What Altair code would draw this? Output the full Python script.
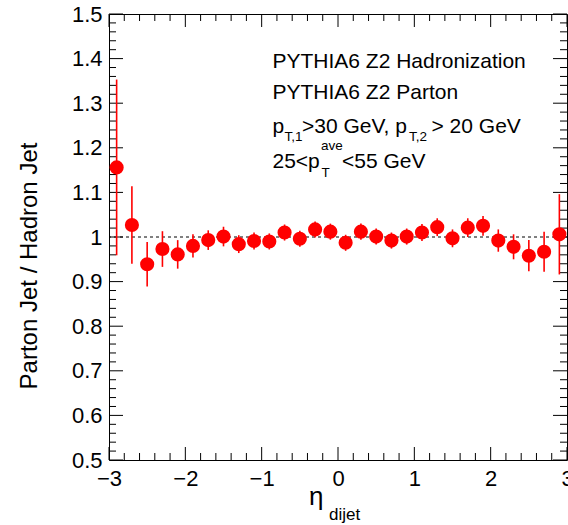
import altair as alt
import pandas as pd

# ---- data ----
eta = [-2.9, -2.7, -2.5, -2.3, -2.1, -1.9, -1.7, -1.5, -1.3, -1.1,
       -0.9, -0.7, -0.5, -0.3, -0.1, 0.1, 0.3, 0.5, 0.7, 0.9,
       1.1, 1.3, 1.5, 1.7, 1.9, 2.1, 2.3, 2.5, 2.7, 2.9]
ratio = [1.156, 1.027, 0.939, 0.973, 0.961, 0.980, 0.993, 1.001, 0.984, 0.991,
         0.990, 1.010, 0.996, 1.017, 1.012, 0.987, 1.012, 1.001, 0.992, 1.001,
         1.010, 1.022, 0.997, 1.021, 1.025, 0.992, 0.978, 0.958, 0.967, 1.006]
err = [0.197, 0.087, 0.050, 0.040, 0.032, 0.026, 0.022, 0.022, 0.020, 0.019,
       0.018, 0.018, 0.018, 0.018, 0.018, 0.018, 0.018, 0.018, 0.018, 0.018,
       0.019, 0.020, 0.020, 0.021, 0.022, 0.025, 0.028, 0.035, 0.045, 0.090]

x_major = [-3, -2, -1, 0, 1, 2, 3]
x_minor = [round(-3 + 0.2 * i, 1) for i in range(31) if i % 5]
y_major = [0.5, 0.6, 0.7, 0.8, 0.9, 1.0, 1.1, 1.2, 1.3, 1.4, 1.5]
y_minor = [round(0.5 + 0.02 * i, 2) for i in range(51) if i % 5]

legend_lines = ["PYTHIA6 Z2 Hadronization", "PYTHIA6 Z2 Parton"]

df = pd.DataFrame({
    "eta": eta,
    "ratio": ratio,
    "lo": [r - e for r, e in zip(ratio, err)],
    "hi": [r + e for r, e in zip(ratio, err)],
})

W, H = 458, 446
FONT = "Liberation Sans"
RED = "#ff0000"

xs = alt.Scale(domain=[-3, 3], nice=False, zero=False)
ys = alt.Scale(domain=[0.5, 1.5], nice=False, zero=False)

x_axis = alt.Axis(values=x_major, ticks=False, tickSize=0, domain=False, grid=False,
                  labelFont=FONT, labelFontSize=22, labelColor="black",
                  labelPadding=8, labelFlush=False, labelOverlap=False, title=None)
y_axis = alt.Axis(values=y_major, ticks=False, tickSize=0, domain=False, grid=False,
                  labelFont=FONT, labelFontSize=22, labelColor="black",
                  labelPadding=7, labelFlush=False, labelOverlap=False, title=None,
                  labelExpr="datum.value == 1 ? '1' : format(datum.value, '.1f')")

base = alt.Chart(df)

errbars = base.mark_rule(color=RED, strokeWidth=1.6).encode(
    x=alt.X("eta:Q", scale=xs, axis=x_axis),
    y=alt.Y("lo:Q", scale=ys, axis=y_axis),
    y2="hi:Q",
)

points = base.mark_circle(size=200, color=RED, opacity=1).encode(
    x=alt.X("eta:Q", scale=xs, axis=x_axis),
    y=alt.Y("ratio:Q", scale=ys, axis=y_axis),
)

unity = alt.Chart(pd.DataFrame({"v": [1.0]})).mark_rule(
    color="black", strokeWidth=1, strokeDash=[3, 3]
).encode(y=alt.Y("v:Q", scale=ys, axis=y_axis))


def xticks(vals, length):
    d = alt.Chart(pd.DataFrame({"v": vals}))
    bot = d.mark_rule(color="black", strokeWidth=1).encode(
        x=alt.X("v:Q", scale=xs, axis=x_axis), y=alt.value(H), y2=alt.value(H - length))
    top = d.mark_rule(color="black", strokeWidth=1).encode(
        x=alt.X("v:Q", scale=xs, axis=x_axis), y=alt.value(0), y2=alt.value(length))
    return [bot, top]


def yticks(vals, length):
    d = alt.Chart(pd.DataFrame({"v": vals}))
    left = d.mark_rule(color="black", strokeWidth=1).encode(
        y=alt.Y("v:Q", scale=ys, axis=y_axis), x=alt.value(0), x2=alt.value(length))
    right = d.mark_rule(color="black", strokeWidth=1).encode(
        y=alt.Y("v:Q", scale=ys, axis=y_axis), x=alt.value(W), x2=alt.value(W - length))
    return [left, right]


def label(txt, x, y, size, angle=0, align="left", baseline="alphabetic"):
    return alt.Chart(pd.DataFrame({"t": [txt]})).mark_text(
        align=align, baseline=baseline, font=FONT, fontSize=size,
        color="black", angle=angle
    ).encode(x=alt.value(x), y=alt.value(y), text="t:N")


# offsets: plot origin at (109, 14) in the page
OX, OY = 109, 14
texts = [
    label(legend_lines[0], 272.5 - OX, 68 - OY, 21),
    label(legend_lines[1], 272.5 - OX, 99 - OY, 21),
    # line 3: p_{T,1}>30 GeV, p_{T,2} > 20 GeV
    label("p", 272.5 - OX, 133 - OY, 21),
    label("T,1", 284.5 - OX, 141 - OY, 13.5),
    label(">30 GeV, p", 302 - OX, 133 - OY, 21),
    label("T,2", 409 - OX, 141 - OY, 13.5),
    label(" > 20 GeV", 431.5 - OX, 133 - OY, 21),
    # line 4: 25<p_T^ave<55 GeV
    label("25<p", 272.5 - OX, 168 - OY, 21),
    label("ave", 321 - OX, 150 - OY, 13.5),
    label("T", 321.5 - OX, 177 - OY, 13.5),
    label("<55 GeV", 342 - OX, 168 - OY, 21),
    # axis titles
    label("Parton Jet / Hadron Jet", 30 - OX, 266 - OY, 24, angle=270,
          align="center", baseline="middle"),
    label("\u03b7", 309 - OX, 505 - OY, 26),
    label("dijet", 329 - OX, 520 - OY, 17),
]

layers = [unity] + xticks(x_major, 13) + xticks(x_minor, 7) + \
    yticks(y_major, 14) + yticks(y_minor, 7) + [errbars, points] + texts

chart = alt.layer(*layers).properties(
    width=W, height=H,
    autosize=alt.AutoSizeParams(type="none"),
    padding={"left": OX, "top": OY, "right": 1, "bottom": 65},
    background="white",
).configure_view(stroke="black", strokeWidth=1)

chart.save("out.html", embed_options={"renderer": "svg", "actions": False})
